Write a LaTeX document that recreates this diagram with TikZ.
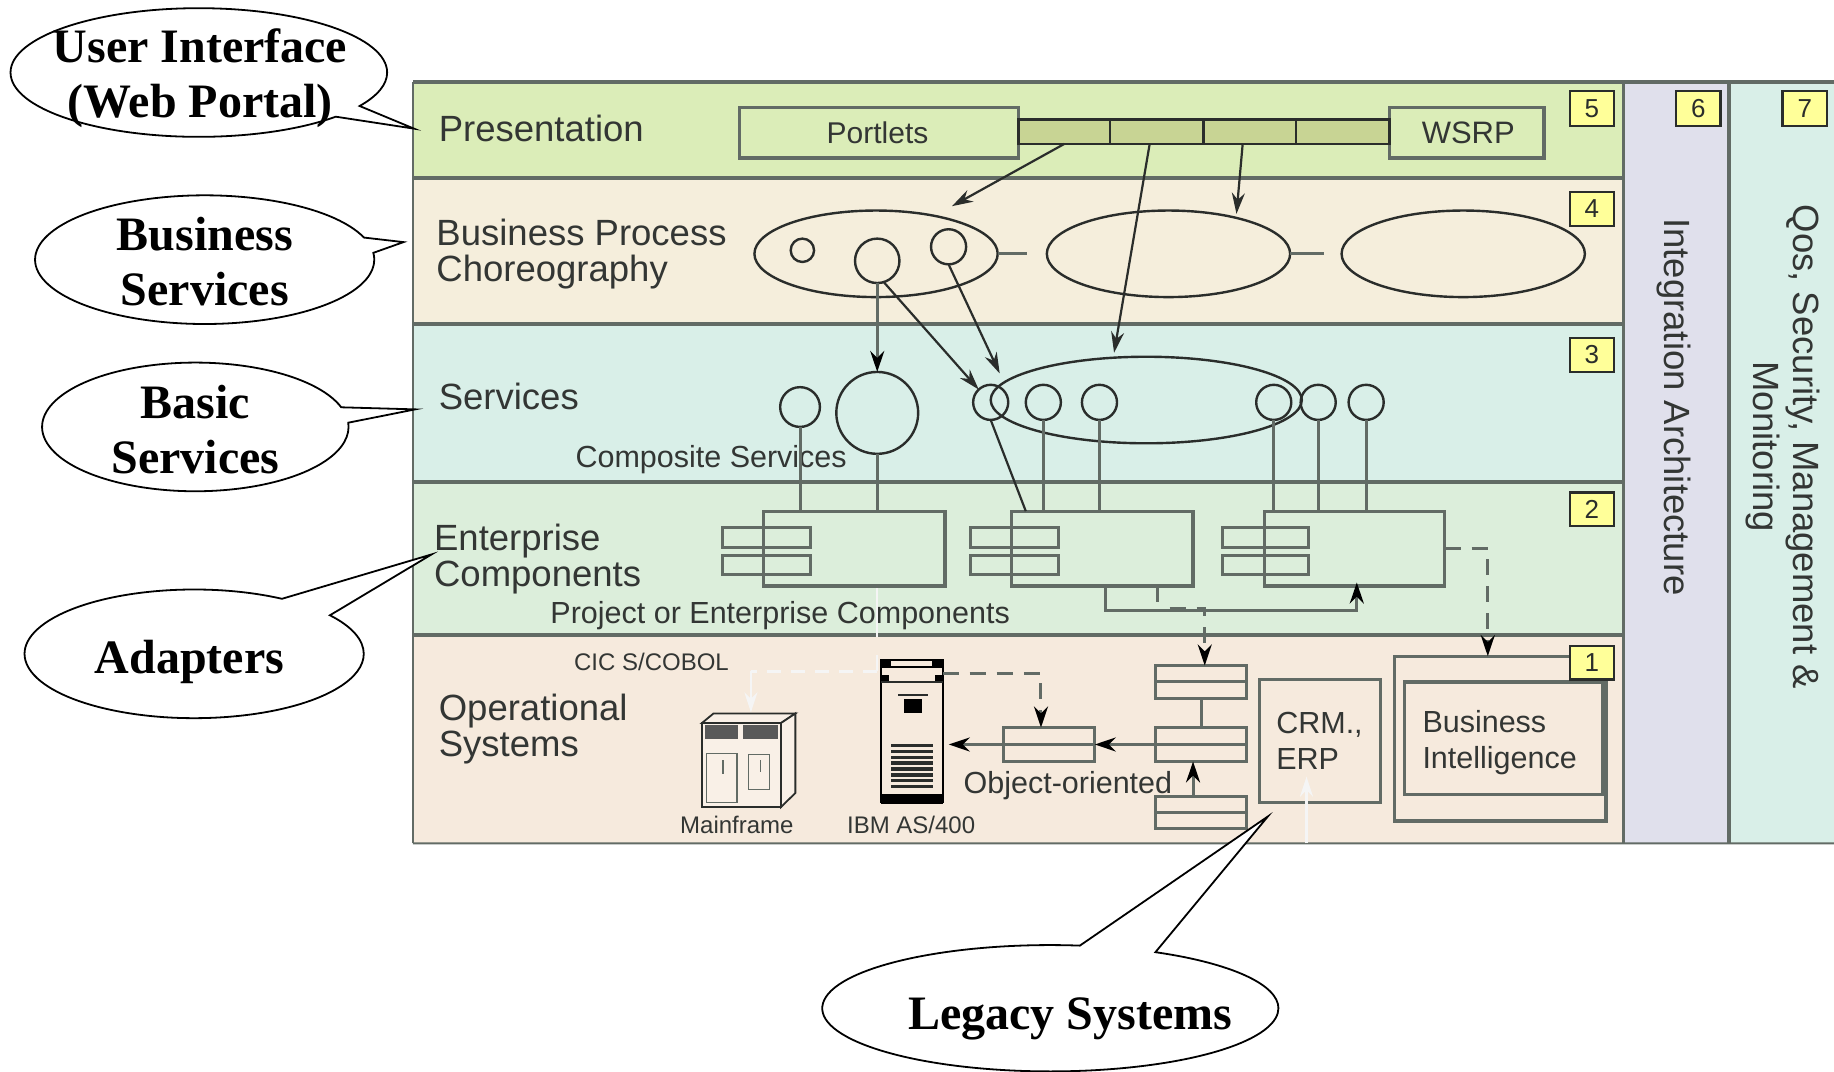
\documentclass[tikz,border=0pt]{standalone}
\usepackage{fontspec}
\setmainfont{Liberation Sans}
\newfontfamily\callfont{Liberation Serif}
\usetikzlibrary{arrows.meta,shapes.geometric,shapes.callouts,calc}
\definecolor{lineg}{HTML}{626B65}
\definecolor{dk}{HTML}{2A2D2B}
\definecolor{txt}{HTML}{333634}
\definecolor{pres}{HTML}{DBEDB8}
\definecolor{bproc}{HTML}{F5EEDC}
\definecolor{serv}{HTML}{D9EFE8}
\definecolor{ent}{HTML}{DCEEDB}
\definecolor{oper}{HTML}{F6EADD}
\definecolor{integ}{HTML}{E0E0EC}
\definecolor{segc}{HTML}{C8D494}
\definecolor{numc}{HTML}{FFFF99}
\tikzset{
  rectst/.style={rectangle,inner sep=0pt,outer sep=0pt},
  band/.style={rectst,fill=#1},
  grayrect/.style={rectst,draw=lineg,line width=3.2pt},
  thinrect/.style={rectst,draw=lineg,line width=3pt},
  seg/.style={rectst,draw=dk,line width=2.6pt,fill=segc},
  numbox/.style={rectst,draw=dk,line width=2.2pt,fill=numc,font=\fontsize{26}{28}\selectfont,text=dk},
  ovalst/.style={ellipse,inner sep=0pt,outer sep=0pt,draw=dk,line width=2.4pt},
  lab/.style={anchor=west,align=left,text=txt,inner sep=0pt,font=\fontsize{36.5}{36}\selectfont},
  small/.style={text=txt,inner sep=0pt,font=\fontsize{30.5}{36}\selectfont},
  tiny/.style={text=txt,inner sep=0pt,font=\fontsize{24}{26}\selectfont},
  sep/.style={draw=lineg,line width=3.6pt},
  conn/.style={draw=dk,line width=2.2pt,-{Stealth[length=21pt,width=13pt]}},
  stem/.style={draw=lineg,line width=3pt},
  stemarrow/.style={stem,-{Stealth[length=21pt,width=14pt,color=black]}},
  dashconn/.style={stem,dash pattern=on 16pt off 11pt,-{Stealth[length=21pt,width=14pt,color=black]}},
  whiteln/.style={draw=white!92!gray,line width=2.4pt},
  whitearrow/.style={whiteln,-{Stealth[length=20pt,width=13pt]}},
  call/.style={ellipse callout,draw=black,fill=white,line width=1.8pt,inner sep=0pt,outer sep=0pt},
  calltext/.style={align=center,inner sep=0pt,text=black,font=\callfont\bfseries\fontsize{48}{55}\selectfont}
}
\newcommand{\rectn}[7][]{\node[#2,#1,minimum width={(#5-#3)*1.1696pt},minimum height={(#6-#4)*1.1696pt}] (#7) at ({(#3+#5)/2},{(#4+#6)/2})}
\newcommand{\ovaln}[5]{\node[ovalst,minimum width={2*#4*1.1696pt},minimum height={2*#5*1.1696pt}] (#1) at (#2,#3) {};}
\newcommand{\calln}[7]{\node[call,callout absolute pointer={#6},callout pointer arc=#7,minimum width={2*#4*1.1696pt},minimum height={2*#5*1.1696pt}] (#1) at (#2,#3) {};}
\begin{document}
\begin{tikzpicture}[x=1.1696pt,y=-1.1696pt]
\useasboundingbox (0,0) rectangle (1568,915.7);
% bands
\rectn{band=pres}{353}{70}{1388}{152}{bP} {};
\rectn{band=bproc}{353}{152}{1388}{277}{bB} {};
\rectn{band=serv}{353}{277}{1388}{412}{bS} {};
\rectn{band=ent}{353}{412}{1388}{543}{bE} {};
\rectn{band=oper}{353}{543}{1388}{721}{bO} {};
\rectn{band=integ}{1388}{70}{1478}{721}{bI} {};
\rectn{band=serv}{1478}{70}{1568}{721}{bQ} {};
\draw[sep] (bP.north west) -- (bQ.north east);
\draw[sep] (bP.south west) -- (bP.south east);
\draw[sep] (bB.south west) -- (bB.south east);
\draw[sep] (bS.south west) -- (bS.south east);
\draw[sep] (bE.south west) -- (bE.south east);
\draw[stem,line width=2pt] (bO.north west |- bP.north) -- (bO.south west);
\draw[stem,line width=2pt] (bO.south west) -- (bQ.south east);
\draw[sep] (bI.north west) -- (bI.south west);
\draw[sep] (bI.north east) -- (bI.south east);
% band labels
\node[lab] (tP) at (375,110) {Presentation};
\node[lab] (tB) at (373,217.5) {Business Process\\Choreography};
\node[lab] (tS) at (375,339) {Services};
\node[lab] (tE) at (371,478) {Enterprise\\Components};
\node[lab] (tO) at (375,623) {Operational\\Systems};
\node[small] (tCS) at (608,393) {Composite Services};
\node[small] (tPE) at (667,526) {Project or Enterprise Components};
\node[tiny] (tCC) at (557,566) {CIC S/COBOL};
\node[tiny] (tMF) at (630,705) {Mainframe};
\node[tiny] (tIB) at (779,705) {IBM AS/400};
\node[small] (tOO) at (913,672) {Object-oriented};
\node[lab,anchor=center,rotate=-90] (tI) at (1431,348) {Integration Architecture};
\node[lab,anchor=center,align=center,rotate=-90,font=\fontsize{36.5}{40}\selectfont] (tQ) at (1524,382) {Qos, Security, Management \&\\Monitoring};
% presentation
\rectn{grayrect}{632}{92}{871}{135}{portlets} {\fontsize{30}{32}\selectfont\color{txt}\hspace*{-3pt}Portlets};
\rectn{grayrect}{1188}{92}{1320}{135}{wsrp} {\fontsize{31}{32}\selectfont\color{txt}\hspace*{3pt}WSRP};
\rectn{seg}{871}{102}{949}{123}{seg1} {};
\rectn{seg}{949}{102}{1029}{123}{seg2} {};
\rectn{seg}{1029}{102}{1108}{123}{seg3} {};
\rectn{seg}{1108}{102}{1188}{123}{seg4} {};
% choreography
\ovaln{e1}{749}{217}{104}{37}
\ovaln{e2}{999}{217}{104}{37}
\ovaln{e3}{1251}{217}{104}{37}
\ovaln{c1}{686}{214}{10}{10}
\ovaln{c2}{750}{223}{19}{19}
\ovaln{c3}{811}{211}{15}{15}
\draw[stem] (e1.east) -- ++(25,0) coordinate (st1);
\draw[stem] (e2.east) -- ++(29,0) coordinate (st2);
% services
\ovaln{big}{750}{353}{35}{35}
\ovaln{s0}{684}{348}{17}{17}
\ovaln{e4}{980}{342}{133}{37}
\ovaln{s1}{847}{344}{15}{15}
\ovaln{s2}{892}{344}{15}{15}
\ovaln{s3}{940}{344}{15}{15}
\ovaln{s4}{1089}{344}{15}{15}
\ovaln{s5}{1127}{344}{15}{15}
\ovaln{s6}{1168}{344}{15}{15}
% enterprise
\rectn{grayrect}{653}{437}{808}{501}{r1} {};
\rectn{grayrect}{865}{437}{1020}{501}{r2} {};
\rectn{grayrect}{1081}{437}{1235}{501}{r3} {};
\rectn{thinrect}{618}{451}{693}{468}{p1} {};
\rectn{thinrect}{618}{475}{693}{491}{p2} {};
\rectn{thinrect}{830}{451}{905}{468}{p3} {};
\rectn{thinrect}{830}{475}{905}{491}{p4} {};
\rectn{thinrect}{1045}{451}{1119}{468}{p5} {};
\rectn{thinrect}{1045}{475}{1119}{491}{p6} {};
% white traces
\coordinate (wa) at (750,503);
\coordinate (wb) at (750,545);
\coordinate (wc) at (750,560);
\coordinate (wd) at (750,574);
\coordinate (we) at (642,574);
\coordinate (wf) at (642,609);
\draw[whiteln] (wa) -- (wb);
\draw[whiteln] (wc) -- (wd);
\draw[whiteln,dash pattern=on 14pt off 10pt] (wd) -- (we);
\draw[whitearrow] (we) -- (wf);
% operational
\rectn{thinrect}{988}{569}{1066}{597}{o1} {};
\rectn{thinrect}{988}{622}{1066}{651}{o2} {};
\rectn{thinrect}{988}{681}{1066}{708}{o3} {};
\rectn{thinrect}{858}{622}{936}{651}{o4} {};
\draw[stem] (o1.west) -- (o1.east);
\draw[stem] (o2.west) -- (o2.east);
\draw[stem] (o3.west) -- (o3.east);
\draw[stem] (o4.west) -- (o4.east);
\rectn{grayrect}{1077}{581}{1180}{686}{crm} {};
\node[small,anchor=west,align=left] (tCRM) at (1091,633) {CRM.,\\ERP};
\rectn{grayrect}{1192}{561}{1373}{702}{biout} {};
\rectn{grayrect}{1201}{583}{1370}{679}{biin} {};
\node[small,anchor=west,align=left] (tBI) at (1216,635) {Business\\Intelligence};
\coordinate (cw) at (1117,721);
\coordinate (cwt) at (1117,664);
\draw[whitearrow,line width=2.8pt] (cw) -- (cwt);
% mainframe
\node[rectst,draw=dk,line width=1.8pt,minimum width=79pt,minimum height=84pt,fill=oper!70!white] (mf) at (634,654) {};
\draw[dk,line width=1.8pt,fill=oper!70!white] (mf.north west) -- (610,610) -- (680,610) -- (mf.north east) -- cycle;
\draw[dk,line width=1.8pt,fill=oper!70!white] (mf.north east) -- (680,610) -- (680,678) -- (mf.south east) -- cycle;
\fill[gray!70!black] (603,620) rectangle (631,632);
\fill[gray!70!black] (635,620) rectangle (665,632);
\draw[lineg,line width=1.3pt] (604,644) rectangle (630,686);
\draw[lineg,line width=1.3pt] (640,645) rectangle (658,675);
\draw[lineg,line width=1.3pt] (618,650) -- (618,662);
\draw[lineg,line width=1.3pt] (650,650) -- (650,660);
% as400
\node[rectst,draw=black,line width=2.4pt,minimum width=62pt,minimum height=142pt,fill=oper] (as) at (779.5,625) {};
\draw[black,line width=2.4pt] (753,570) -- (806,570);
\fill[black] (753,564) rectangle (762,571);
\fill[black] (797,564) rectangle (806,571);
\fill[black] (753,577) rectangle (760,584);
\fill[black] (799,577) rectangle (806,584);
\draw[dk,line width=2pt] (753,583) -- (806,583);
\fill[dk] (768,593) rectangle (793,595);
\fill[black] (773,598) rectangle (788,610);
\foreach \yy in {636,641,...,671} {\fill[dk] (762,\yy) rectangle (798,\yy+3);}
\fill[black] (753,679) rectangle (806,687);
% connectors
\draw[conn,shorten >=20pt] (seg1.-90) -- (e1.33);
\draw[conn,shorten >=5pt] (seg2.-120) -- (e4.128);
\draw[conn,shorten >=4pt] (seg3.-120) -- (e2.28);
\draw[stemarrow] (c2.south) -- (big.north);
\draw[conn] (c2.-73) -- (s1.133);
\draw[conn,shorten >=10pt] (c3.south) -- (e4.173);
\coordinate (r2a) at (877,437);
\draw[dk,line width=2.2pt] (s1.south) -- (r2a);
\draw[stem] (s0.south) -- (s0.south |- r1.north);
\draw[stem] (big.south) -- (big.south |- r1.north);
\draw[stem] (s2.south) -- (s2.south |- r2.north);
\draw[stem] (s3.south) -- (s3.south |- r2.north);
\draw[stem] (s4.south) -- (s4.south |- r3.north);
\draw[stem] (s5.south) -- (s5.south |- r3.north);
\draw[stem] (s6.south) -- (s6.south |- r3.north);
\coordinate (j1) at (945,501);
\coordinate (j2) at (945,522);
\coordinate (j3) at (1160,522);
\coordinate (j4) at (1160,498);
\draw[stemarrow] (j1) -- (j2) -- (j3) -- (j4);
\coordinate (d0) at (990,501);
\coordinate (d1) at (990,515);
\draw[stem] (d0) -- (d1);
\coordinate (d2) at (1000,520);
\coordinate (d3) at (1030,520);
\draw[dashconn] (d2) -- (d3) -- (d3 |- o1.north);
\coordinate (f1) at (1272,469);
\draw[dashconn] (r3.east) -- (f1) -- (f1 |- biout.north);
\coordinate (h1) at (806,576);
\coordinate (h2) at (890,576);
\draw[dashconn] (h1) -- (h2) -- (o4.north -| h2);
\draw[stemarrow,shorten >=6pt] (o4.west) -- (o4.west -| as.east);
\coordinate (k1) at (960,636.5);
\draw[stem] (k1) -- (o2.west);
\draw[stemarrow] (k1) -- (o4.east);
\coordinate (q1) at (1027,597);
\draw[stem] (q1) -- (q1 |- o2.north);
\coordinate (m1) at (1020,681);
\draw[stemarrow] (m1) -- (m1 |- o2.south);
% numbers
\rectn{numbox}{1342}{78}{1380}{108}{n5} {5};
\rectn{numbox}{1433}{78}{1471}{108}{n6} {6};
\rectn{numbox}{1524}{78}{1562}{108}{n7} {7};
\rectn{numbox}{1342}{164}{1380}{193}{n4} {4};
\rectn{numbox}{1342}{289}{1380}{318}{n3} {3};
\rectn{numbox}{1342}{421}{1380}{450}{n2} {2};
\rectn{numbox}{1342}{552}{1380}{581}{n1} {1};
% callouts
\calln{uiC}{170}{62}{161}{55}{(354,110)}{12}
\node[calltext] (uiT) at (171,67) {User Interface\\(Web Portal)};
\calln{buC}{175}{222}{145}{55}{(345,207)}{14}
\node[calltext] (buT) at (175,223.5) {Business\\Services};
\calln{baC}{167}{365}{131}{55}{(355,350)}{14}
\node[calltext] (baT) at (167,367.5) {Basic\\Services};
\calln{adC}{166}{559}{145}{55}{(369,474)}{22}
\node[calltext] (adT) at (162,566) {Adapters};
\calln{leC}{898}{862}{195}{54}{(1084,698)}{20}
\node[calltext] (leT) at (915,871) {Legacy Systems};
\end{tikzpicture}
\end{document}
